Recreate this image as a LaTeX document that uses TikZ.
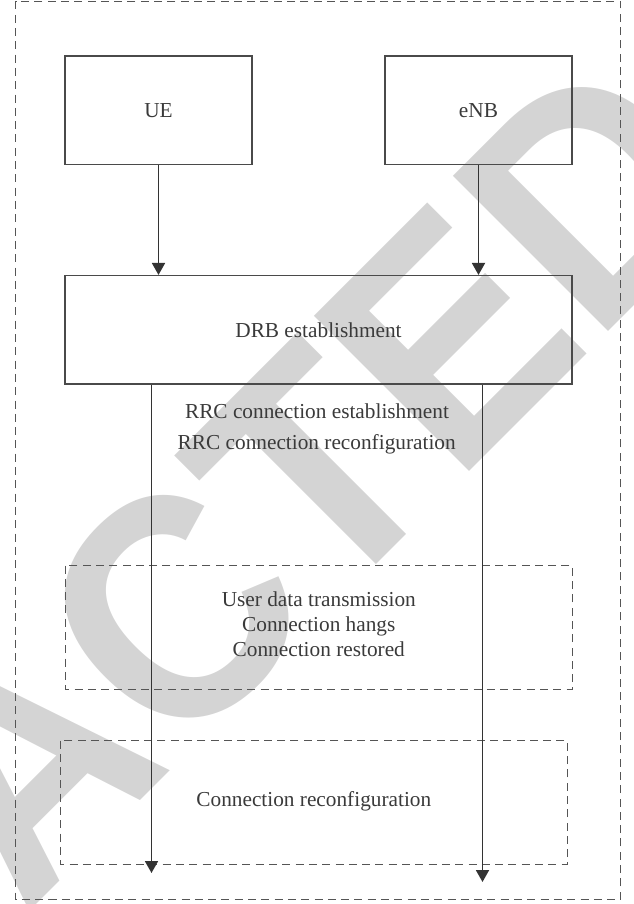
\documentclass[tikz,border=0pt]{standalone}
\usepackage{fontspec}
\setmainfont{Liberation Serif}
\newfontfamily\wmfont{Liberation Sans}
\usetikzlibrary{arrows.meta}

\definecolor{boxline}{HTML}{4A4A4A}
\definecolor{dashline}{HTML}{555555}
\definecolor{arrowline}{HTML}{333333}
\definecolor{labeltext}{HTML}{3A3A3A}
\definecolor{stampgray}{RGB}{212,212,212}

\tikzset{
  solidbox/.style={draw=boxline, line width=1.4pt, minimum width=187pt,
    minimum height=108.5pt, inner sep=0pt, text=labeltext,
    font=\fontsize{21.3}{25}\selectfont},
  widebox/.style={solidbox, minimum width=507pt},
  dashbox/.style={draw=dashline, line width=1.4pt, dash pattern=on 8pt off 5.3pt},
  label/.style={text=labeltext, inner sep=0pt, anchor=base,
    font=\fontsize{21.3}{25}\selectfont},
  flow/.style={draw=arrowline, line width=1.8pt,
    -{Triangle[length=12pt,width=13pt]}},
  stamp/.style={text=stampgray, inner sep=0pt, anchor=base west,
    font=\wmfont\bfseries\fontsize{319}{324}\selectfont}
}

\begin{document}
\begin{tikzpicture}[x=1pt,y=-1pt]
\useasboundingbox (0,0) rectangle (633,904);

% retraction stamp behind everything
\begin{scope}
  \clip (0,0) rectangle (633,904);
  \node[stamp, rotate=45] (stamp) at (-546,1486.6) {\scalebox{0.929}[1]{RETRACTED}};
\end{scope}

% outer frame
\draw[dashbox] (15.5,1.5) rectangle (620.5,899.5);

% entities
\node[solidbox] (ue)  at (158.5,110.2) {UE};
\node[solidbox] (enb) at (478.5,110.2) {eNB};
\node[widebox]  (drb) at (318.5,329.9) {DRB establishment};

\draw[flow] (ue.south)  -- (ue.south |- drb.north);
\draw[flow] (enb.south) -- (enb.south |- drb.north);

% message labels under the bearer box
\node[label] (rrc1) at (317,418) {RRC connection establishment};
\node[label] (rrc2) at (316.7,449) {RRC connection reconfiguration};

% phase frames
\draw[dashbox] (65.5,565.5) rectangle (572.5,689.5);
\node[label] (ph1) at (318.8,606.7) {User data transmission};
\node[label] (ph2) at (318.8,631.7) {Connection hangs};
\node[label] (ph3) at (318.8,656.7) {Connection restored};

\draw[dashbox] (60.5,740.5) rectangle (567.5,864.5);
\node[label] (ph4) at (313.8,806.7) {Connection reconfiguration};

% life lines
\coordinate (ueTop)  at (151.5,384);
\coordinate (ueEnd)  at (151.5,873);
\coordinate (enbTop) at (482.5,384);
\coordinate (enbEnd) at (482.5,882);
\draw[flow] (ueTop |- drb.south) -- (ueEnd);
\draw[flow] (enbTop |- drb.south) -- (enbEnd);
\end{tikzpicture}
\end{document}
